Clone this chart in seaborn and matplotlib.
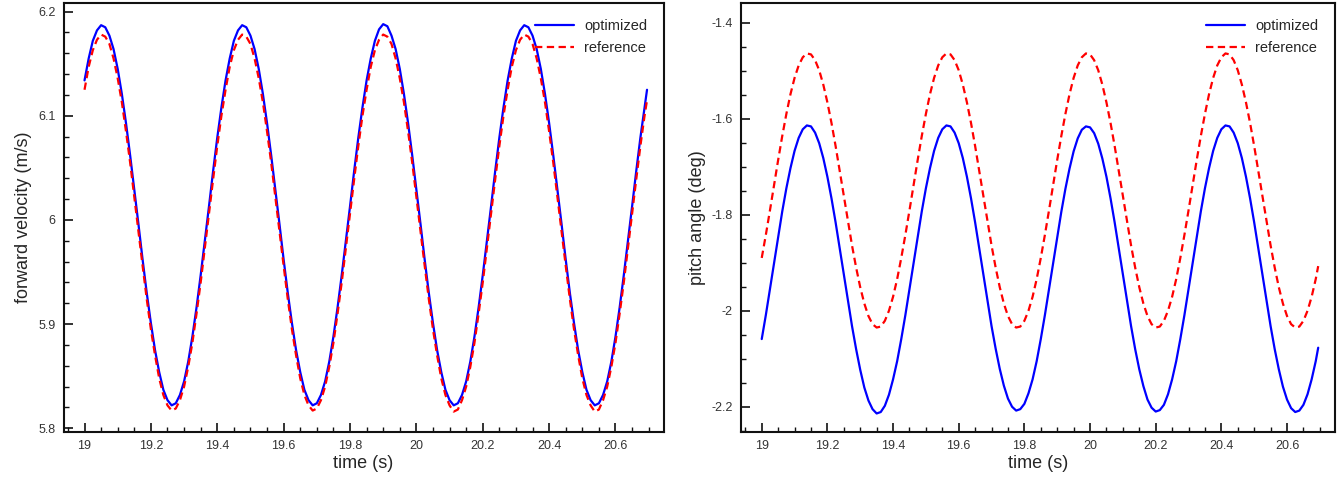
import matplotlib
matplotlib.use("Agg")
import matplotlib.pyplot as plt
from matplotlib.ticker import MultipleLocator, FuncFormatter
import pandas as pd
import seaborn as sns

# time samples (s)
time_s = [
    19.0, 19.0125, 19.025, 19.0375, 19.05, 19.0625, 19.075, 19.0875,
    19.1, 19.1125, 19.125, 19.1375, 19.15, 19.1625, 19.175, 19.1875,
    19.2, 19.2125, 19.225, 19.2375, 19.25, 19.2625, 19.275, 19.2875,
    19.3, 19.3125, 19.325, 19.3375, 19.35, 19.3625, 19.375, 19.3875,
    19.4, 19.4125, 19.425, 19.4375, 19.45, 19.4625, 19.475, 19.4875,
    19.5, 19.5125, 19.525, 19.5375, 19.55, 19.5625, 19.575, 19.5875,
    19.6, 19.6125, 19.625, 19.6375, 19.65, 19.6625, 19.675, 19.6875,
    19.7, 19.7125, 19.725, 19.7375, 19.75, 19.7625, 19.775, 19.7875,
    19.8, 19.8125, 19.825, 19.8375, 19.85, 19.8625, 19.875, 19.8875,
    19.9, 19.9125, 19.925, 19.9375, 19.95, 19.9625, 19.975, 19.9875,
    20.0, 20.0125, 20.025, 20.0375, 20.05, 20.0625, 20.075, 20.0875,
    20.1, 20.1125, 20.125, 20.1375, 20.15, 20.1625, 20.175, 20.1875,
    20.2, 20.2125, 20.225, 20.2375, 20.25, 20.2625, 20.275, 20.2875,
    20.3, 20.3125, 20.325, 20.3375, 20.35, 20.3625, 20.375, 20.3875,
    20.4, 20.4125, 20.425, 20.4375, 20.45, 20.4625, 20.475, 20.4875,
    20.5, 20.5125, 20.525, 20.5375, 20.55, 20.5625, 20.575, 20.5875,
    20.6, 20.6125, 20.625, 20.6375, 20.65, 20.6625, 20.675, 20.6875,
    20.695,
]

# forward velocity (m/s)
vel_optimized = [
    6.134, 6.155, 6.172, 6.182, 6.187, 6.185, 6.177, 6.164, 6.145, 6.121, 6.093, 6.062, 6.029, 5.996, 5.962, 5.930, 5.901,
    5.875, 5.854, 5.837, 5.827, 5.822, 5.824, 5.832, 5.845, 5.864, 5.888, 5.916, 5.947, 5.980, 6.013, 6.047, 6.079, 6.108,
    6.134, 6.155, 6.172, 6.182, 6.187, 6.185, 6.177, 6.164, 6.145, 6.121, 6.093, 6.062, 6.029, 5.996, 5.962, 5.930, 5.901,
    5.875, 5.854, 5.837, 5.827, 5.822, 5.824, 5.832, 5.845, 5.864, 5.888, 5.916, 5.947, 5.980, 6.013, 6.047, 6.079, 6.108,
    6.134, 6.155, 6.172, 6.183, 6.188, 6.186, 6.177, 6.164, 6.145, 6.121, 6.093, 6.062, 6.029, 5.996, 5.962, 5.930, 5.901,
    5.875, 5.854, 5.837, 5.827, 5.822, 5.824, 5.832, 5.845, 5.864, 5.888, 5.916, 5.947, 5.980, 6.013, 6.047, 6.079, 6.108,
    6.134, 6.155, 6.172, 6.182, 6.187, 6.185, 6.177, 6.164, 6.145, 6.121, 6.093, 6.062, 6.029, 5.996, 5.962, 5.930, 5.901,
    5.875, 5.854, 5.837, 5.827, 5.822, 5.824, 5.832, 5.845, 5.864, 5.888, 5.916, 5.947, 5.980, 6.013, 6.047, 6.079, 6.108,
    6.125,
]
vel_reference = [
    6.125, 6.147, 6.163, 6.173, 6.178, 6.176, 6.169, 6.155, 6.136, 6.113, 6.085, 6.055, 6.022, 5.989, 5.956, 5.924, 5.895,
    5.870, 5.848, 5.832, 5.822, 5.817, 5.819, 5.827, 5.840, 5.859, 5.882, 5.910, 5.940, 5.973, 6.006, 6.039, 6.071, 6.100,
    6.125, 6.147, 6.163, 6.173, 6.178, 6.176, 6.169, 6.155, 6.136, 6.113, 6.085, 6.055, 6.022, 5.989, 5.956, 5.924, 5.895,
    5.870, 5.848, 5.832, 5.822, 5.817, 5.819, 5.827, 5.840, 5.859, 5.882, 5.910, 5.940, 5.973, 6.006, 6.039, 6.071, 6.100,
    6.125, 6.147, 6.163, 6.173, 6.178, 6.176, 6.169, 6.155, 6.136, 6.113, 6.085, 6.055, 6.022, 5.989, 5.956, 5.924, 5.895,
    5.870, 5.848, 5.832, 5.822, 5.816, 5.818, 5.827, 5.840, 5.859, 5.882, 5.910, 5.940, 5.973, 6.006, 6.039, 6.071, 6.100,
    6.125, 6.147, 6.163, 6.173, 6.178, 6.176, 6.169, 6.155, 6.136, 6.113, 6.085, 6.055, 6.022, 5.989, 5.956, 5.924, 5.895,
    5.870, 5.848, 5.832, 5.822, 5.816, 5.818, 5.827, 5.840, 5.859, 5.882, 5.910, 5.940, 5.973, 6.006, 6.039, 6.071, 6.100,
    6.115,
]

# pitch angle (deg)
pitch_optimized = [
    -2.059, -2.009, -1.955, -1.900, -1.846, -1.793, -1.745, -1.703, -1.667, -1.640, -1.622, -1.614, -1.616, -1.629, -1.651, -1.682, -1.721,
    -1.766, -1.816, -1.870, -1.925, -1.979, -2.032, -2.080, -2.123, -2.160, -2.187, -2.205, -2.214, -2.211, -2.198, -2.175, -2.143, -2.105,
    -2.059, -2.009, -1.955, -1.900, -1.846, -1.793, -1.745, -1.703, -1.667, -1.640, -1.622, -1.614, -1.616, -1.629, -1.651, -1.682, -1.721,
    -1.766, -1.816, -1.870, -1.925, -1.979, -2.032, -2.079, -2.121, -2.156, -2.183, -2.200, -2.208, -2.205, -2.194, -2.172, -2.143, -2.105,
    -2.059, -2.009, -1.955, -1.900, -1.846, -1.794, -1.746, -1.704, -1.668, -1.641, -1.623, -1.616, -1.618, -1.630, -1.652, -1.683, -1.721,
    -1.766, -1.816, -1.870, -1.925, -1.979, -2.032, -2.080, -2.122, -2.157, -2.185, -2.202, -2.210, -2.207, -2.196, -2.174, -2.143, -2.105,
    -2.059, -2.009, -1.955, -1.900, -1.846, -1.793, -1.745, -1.703, -1.667, -1.640, -1.622, -1.614, -1.616, -1.629, -1.651, -1.682, -1.721,
    -1.766, -1.816, -1.870, -1.925, -1.979, -2.032, -2.080, -2.122, -2.158, -2.185, -2.203, -2.211, -2.208, -2.196, -2.174, -2.143, -2.105,
    -2.077,
]
pitch_reference = [
    -1.890, -1.842, -1.791, -1.738, -1.686, -1.636, -1.590, -1.549, -1.515, -1.489, -1.472, -1.464, -1.466, -1.478, -1.499, -1.529, -1.566,
    -1.609, -1.657, -1.709, -1.761, -1.814, -1.864, -1.910, -1.951, -1.985, -2.011, -2.028, -2.035, -2.033, -2.021, -2.000, -1.971, -1.934,
    -1.890, -1.842, -1.791, -1.738, -1.686, -1.636, -1.590, -1.549, -1.515, -1.489, -1.472, -1.464, -1.466, -1.478, -1.499, -1.529, -1.566,
    -1.609, -1.657, -1.709, -1.761, -1.814, -1.864, -1.910, -1.951, -1.985, -2.011, -2.028, -2.035, -2.033, -2.021, -2.000, -1.971, -1.934,
    -1.890, -1.842, -1.791, -1.738, -1.686, -1.636, -1.590, -1.549, -1.515, -1.489, -1.472, -1.464, -1.466, -1.478, -1.499, -1.529, -1.566,
    -1.609, -1.657, -1.709, -1.761, -1.814, -1.864, -1.910, -1.951, -1.985, -2.011, -2.028, -2.035, -2.033, -2.021, -2.000, -1.971, -1.934,
    -1.890, -1.842, -1.791, -1.738, -1.686, -1.636, -1.590, -1.549, -1.515, -1.489, -1.472, -1.464, -1.466, -1.478, -1.499, -1.529, -1.566,
    -1.609, -1.657, -1.709, -1.761, -1.814, -1.864, -1.910, -1.951, -1.985, -2.011, -2.028, -2.035, -2.033, -2.021, -2.000, -1.971, -1.934,
    -1.907,
]

series_labels = ["optimized", "reference"]

sns.set_style("white")
plt.rcParams["font.family"] = ["Liberation Sans", "DejaVu Sans"]

fig = plt.figure(figsize=(13.42, 4.8), dpi=100)
ax_v = fig.add_axes([0.0474, 0.1006, 0.4471, 0.8925])
ax_p = fig.add_axes([0.5522, 0.1006, 0.4423, 0.8925])

panels = [
    (ax_v, vel_optimized, vel_reference, "forward velocity (m/s)",
     (5.7967, 6.208), 0.1, 0.02),
    (ax_p, pitch_optimized, pitch_reference, "pitch angle (deg)",
     (-2.252, -1.3596), 0.2, 0.05),
]

fmt = FuncFormatter(lambda v, pos: "{:g}".format(round(v, 6)))

for ax, opt, ref, ylabel, ylim, ymaj, ymin in panels:
    df = pd.DataFrame({"time": time_s, series_labels[0]: opt, series_labels[1]: ref})
    sns.lineplot(data=df, x="time", y=series_labels[0], ax=ax, color="#0000ff",
                 lw=1.6, label=series_labels[0])
    sns.lineplot(data=df, x="time", y=series_labels[1], ax=ax, color="#ff0000",
                 lw=1.6, linestyle=(0, (3.3, 2.0)), label=series_labels[1])

    ax.set_xlim(18.937, 20.745)
    ax.set_ylim(*ylim)
    ax.xaxis.set_major_locator(MultipleLocator(0.2))
    ax.xaxis.set_minor_locator(MultipleLocator(0.05))
    ax.yaxis.set_major_locator(MultipleLocator(ymaj))
    ax.yaxis.set_minor_locator(MultipleLocator(ymin))
    ax.xaxis.set_major_formatter(fmt)
    ax.yaxis.set_major_formatter(fmt)
    ax.tick_params(which="both", direction="in", bottom=True, left=True,
                   top=False, right=False, colors="#111111",
                   labelcolor="#333333", labelsize=9)
    ax.tick_params(which="major", length=6.5, width=1.2, pad=6)
    ax.tick_params(which="minor", length=3.3, width=1.0)
    for sp in ax.spines.values():
        sp.set_linewidth(1.5)
        sp.set_color("#111111")

    ax.set_xlabel("time (s)", fontsize=13, labelpad=2)
    ax.set_ylabel(ylabel, fontsize=13, labelpad=4)
    ax.legend(loc="upper right", frameon=False, fontsize=10.5, handlelength=2.7,
              handletextpad=0.7, labelspacing=0.5, borderaxespad=0.7)

fig.savefig("out.png", dpi=100)
